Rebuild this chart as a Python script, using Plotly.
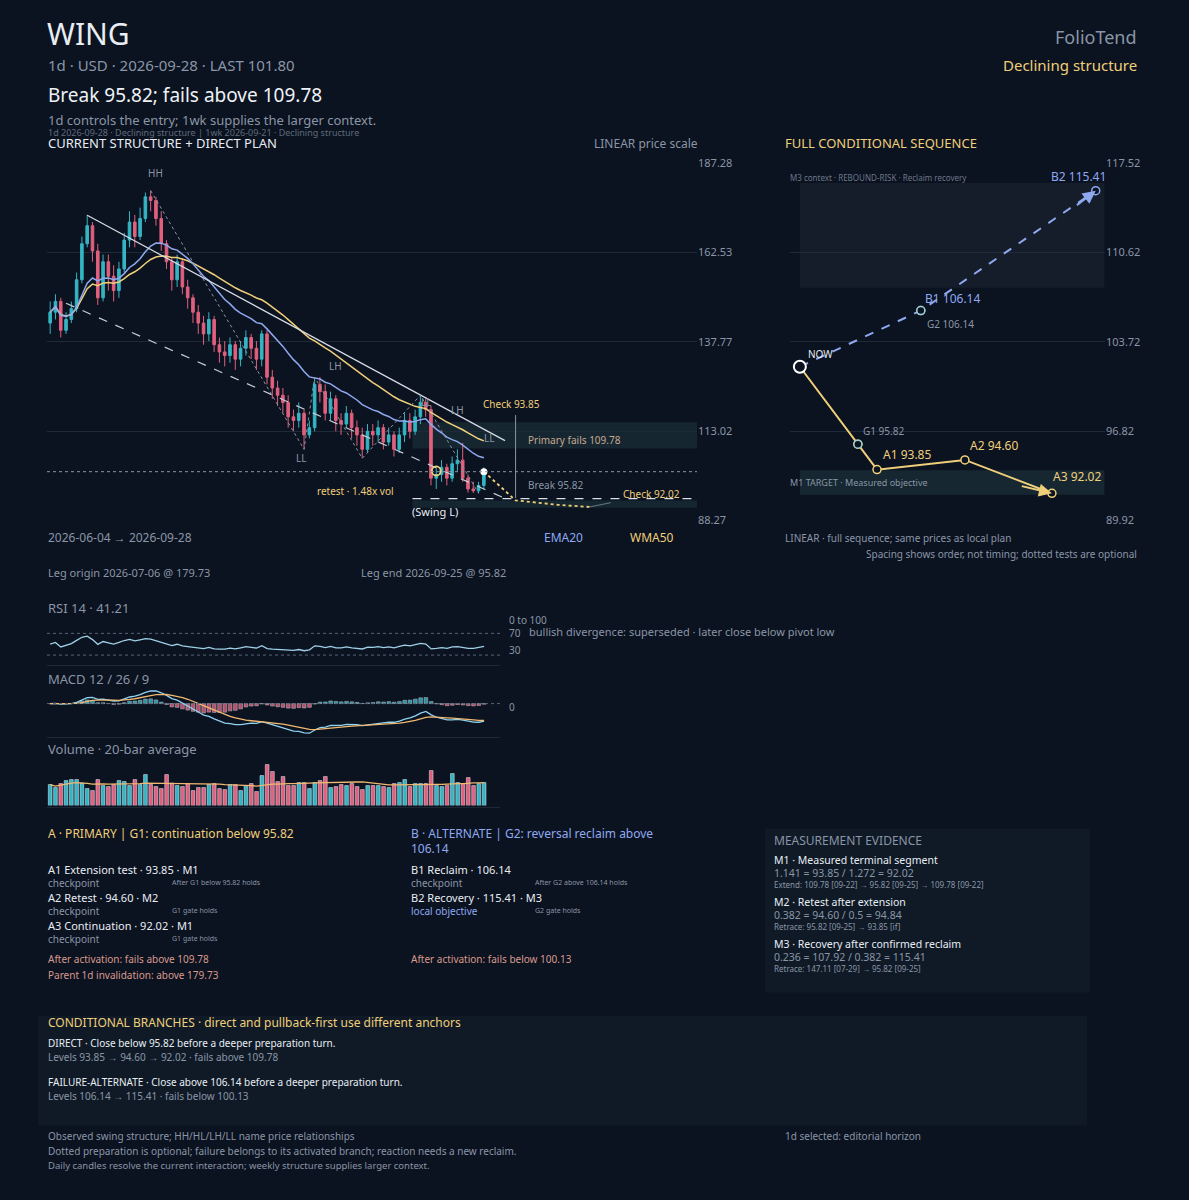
import numpy as np
import pandas as pd
import plotly.graph_objects as go

W, H = 1189, 1200
BG = "#0b1220"
GRID = "#1f2a38"
TXT = "#c9d1dc"
MUTED = "#8a96a6"
YEL = "#f0cf7a"
BLUE = "#8fa9f0"
UP = "#35b5c4"
DN = "#e0607e"
FONT = "Noto Sans"

dates = pd.bdate_range("2026-06-04", "2026-09-28")
closes = [146, 149, 141, 144, 147, 155, 165, 170, 163, 150,
          160, 156, 152, 158, 166, 171, 167, 172, 178, 177,
          172, 165, 160, 155, 160, 153, 150, 146, 143, 140,
          144, 137, 135, 134, 137, 133, 136, 139, 136, 133,
          140, 128, 125, 123, 121, 117, 116, 118, 112, 114,
          126, 124, 118, 122, 116, 115, 118, 114, 112, 108,
          113, 112, 114, 110, 112, 108, 112, 116, 113, 117,
          121, 119, 100, 101, 103, 100, 104, 105, 100, 97,
          96.5, 98, 101.8]
highs = [149, 151, 150, 146, 149, 157, 167, 173, 171, 165,
         162, 162, 159, 160, 168, 174, 173, 175, 179.2, 179.73,
         178, 174, 166, 161, 162, 161, 155, 151, 148, 145,
         146, 145, 139, 138, 139, 138, 138, 141, 140, 138,
         141, 141, 130, 127, 125, 123, 119, 121, 119, 116,
         128, 128, 126, 124, 123, 118, 120, 119, 116, 114,
         115, 115, 116, 115, 114, 113, 114, 118, 118, 119,
         123, 122, 120, 103, 105, 104, 106, 108, 109.78, 101,
         99, 99, 103]
lows = [140, 144, 139, 140, 143, 146, 154, 164, 160, 148,
        149, 152, 149, 150, 157, 164, 164, 166, 171, 174,
        170, 163, 158, 152, 153, 151, 147, 143, 140, 137,
        138, 135, 132, 131, 132, 130, 131, 134, 133, 130,
        131, 126, 122, 120, 118, 114, 113, 114, 108, 111,
        113, 121, 116, 116, 113, 112, 114, 111, 109, 105.5,
        107, 109, 110, 108, 109, 106, 107, 110, 111, 112,
        115, 117, 98, 97, 99, 98, 99, 102, 99, 96,
        95.9, 95.82, 97]
first_open = 143
volumes = [42, 36, 44, 50, 52, 52, 45, 34, 30, 52,
           40, 38, 42, 50, 48, 40, 52, 42, 62, 42,
           38, 34, 62, 45, 40, 38, 44, 30, 36, 36,
           42, 44, 34, 32, 42, 42, 30, 40, 44, 28,
           60, 82, 68, 48, 58, 40, 40, 46, 46, 34,
           46, 50, 58, 36, 38, 42, 40, 44, 38, 32,
           40, 40, 40, 38, 36, 44, 46, 52, 38, 44,
           44, 44, 70, 40, 38, 40, 64, 46, 44, 56,
           40, 44, 46]

# structure + plan levels
swing_idx = [19, 48, 50, 59, 70, 81]
swing_px = [179.73, 108, 128, 105.5, 123, 95.82]
trend_idx = [7, 86]
trend_px = [172.9, 110.4]
chan_idx = [3, 86]
chan_px = [148.5, 94.4]
plan_idx = [82, 88, 96, 102]
plan_px = [101.8, 93.85, 92.6, 92.02]
LAST, BREAK, FAILS, CHECK1, CHECK2 = 101.80, 95.82, 109.78, 93.85, 92.02
price_ticks = [187.28, 162.53, 137.77, 113.02, 88.27]

# conditional sequence
seq_a_x = [0, 2, 2.66, 5.69, 8.69]
seq_a_y = [101.80, 95.82, 93.85, 94.60, 92.02]
seq_b_x = [0, 4.17, 10.2]
seq_b_y = [101.80, 106.14, 115.41]
seq_ticks = [117.52, 110.62, 103.72, 96.82, 89.92]

df = pd.DataFrame({"close": closes, "high": highs, "low": lows, "vol": volumes}, index=dates)
df["open"] = df["close"].shift(1).fillna(first_open)
n = len(df)
idx = np.arange(n)
ema20 = df["close"].ewm(span=20, adjust=True).mean()
wts = np.arange(1, 51)
wma50 = df["close"].rolling(50, min_periods=1).apply(lambda s: np.dot(s, wts[-len(s):]) / wts[-len(s):].sum(), raw=True)
delta = df["close"].diff().fillna(0)
gain = delta.clip(lower=0).ewm(alpha=1 / 14, adjust=False).mean()
loss = (-delta.clip(upper=0)).ewm(alpha=1 / 14, adjust=False).mean()
rsi = (100 * (gain + 1.5) / (gain + loss + 3.0))  # seeded Wilder ratio, neutral start
macd = df["close"].ewm(span=12).mean() - df["close"].ewm(span=26).mean()
signal = macd.ewm(span=9).mean()
hist = macd - signal
vol_avg = df["vol"].rolling(20, min_periods=1).mean()
up = df["close"] >= df["open"]


def px(x):
    return x / W


def py(y):
    # small vertical stretch so the page lands where the reference sits
    y = 600 + (y - 600) * 1.013
    return 1 - y / H


fig = go.Figure()

# ---- price panel
fig.add_trace(go.Candlestick(x=idx, open=df["open"], high=df["high"], low=df["low"], close=df["close"],
                             increasing=dict(line=dict(color=UP, width=1), fillcolor=UP),
                             decreasing=dict(line=dict(color=DN, width=1), fillcolor=DN),
                             whiskerwidth=0, xaxis="x", yaxis="y"))
fig.add_trace(go.Scatter(x=idx, y=wma50, mode="lines", line=dict(color=YEL, width=1.5), xaxis="x", yaxis="y"))
fig.add_trace(go.Scatter(x=idx, y=ema20, mode="lines", line=dict(color=BLUE, width=1.5), xaxis="x", yaxis="y"))
fig.add_trace(go.Scatter(x=trend_idx, y=trend_px, mode="lines", line=dict(color="#d8dde6", width=1.2), xaxis="x", yaxis="y"))
fig.add_trace(go.Scatter(x=chan_idx, y=chan_px, mode="lines", line=dict(color="#c8ced8", width=1.2, dash="dash"), xaxis="x", yaxis="y"))
fig.add_trace(go.Scatter(x=swing_idx, y=swing_px, mode="lines", line=dict(color="#8a94a3", width=1, dash="dot"), xaxis="x", yaxis="y"))
fig.add_trace(go.Scatter(x=plan_idx, y=plan_px, mode="lines", line=dict(color=YEL, width=1.8, dash="dot"), xaxis="x", yaxis="y"))
fig.add_trace(go.Scatter(x=[plan_idx[-1], 106], y=[plan_px[-1], 93.2], mode="lines", line=dict(color="#6b7686", width=1), xaxis="x", yaxis="y"))
fig.add_trace(go.Scatter(x=[73], y=[102], mode="markers", marker=dict(size=9, color="rgba(0,0,0,0)", line=dict(color=YEL, width=1.8)), xaxis="x", yaxis="y"))
fig.add_trace(go.Scatter(x=[82], y=[LAST], mode="markers", marker=dict(size=7, color="white"), xaxis="x", yaxis="y"))

shapes = [
    dict(type="rect", xref="x", yref="y", x0=68.5, x1=122.3, y0=108.2, y1=115.5, fillcolor="rgba(60,110,110,0.22)", line_width=0, layer="below"),
    dict(type="rect", xref="x", yref="y", x0=68.5, x1=122.3, y0=91.8, y1=93.8, fillcolor="rgba(60,110,110,0.22)", line_width=0, layer="below"),
    dict(type="line", xref="x", yref="y", x0=-0.6, x1=122.3, y0=LAST, y1=LAST, line=dict(color="#8a94a3", width=1, dash="dot")),
    dict(type="line", xref="x", yref="y", x0=68.5, x1=122.3, y0=CHECK2 + 2.3, y1=CHECK2 + 2.3, line=dict(color="#d8dde6", width=1.3, dash="dash")),
    dict(type="line", xref="x", yref="y", x0=88, x1=88, y0=94.5, y1=117.5, line=dict(color="#8a94a3", width=1)),
    # sequence zones
    dict(type="rect", xref="x5", yref="y5", x0=0, x1=10.5, y0=107.9, y1=116.0, fillcolor="rgba(40,50,62,0.35)", line_width=0, layer="below"),
    dict(type="rect", xref="x5", yref="y5", x0=0, x1=10.5, y0=91.9, y1=93.8, fillcolor="rgba(50,90,90,0.3)", line_width=0, layer="below"),
    # boxes
    dict(type="rect", xref="paper", yref="paper", x0=px(765), x1=px(1090), y0=py(992), y1=py(828), fillcolor="#0f1a26", line_width=0, layer="below"),
    dict(type="rect", xref="paper", yref="paper", x0=px(38), x1=px(1087), y0=py(1125), y1=py(1015), fillcolor="#0f1a26", line_width=0, layer="below"),
]
for y in [665, 737, 807]:
    shapes.append(dict(type="line", xref="paper", yref="paper", x0=px(47), x1=px(500), y0=py(y), y1=py(y), line=dict(color=GRID, width=1)))

# ---- indicators
fig.add_trace(go.Scatter(x=idx, y=rsi, mode="lines", line=dict(color="#9fd0e8", width=1.3), xaxis="x2", yaxis="y2"))
for lvl in [70, 30]:
    shapes.append(dict(type="line", xref="x2", yref="y2", x0=-0.6, x1=85, y0=lvl, y1=lvl, line=dict(color="#5a6575", width=1, dash="dot")))
fig.add_trace(go.Bar(x=idx, y=hist, marker_color=np.where(hist >= 0, UP, DN), opacity=0.8, xaxis="x3", yaxis="y3"))
fig.add_trace(go.Scatter(x=idx, y=macd, mode="lines", line=dict(color="#8fd3f0", width=1.3), xaxis="x3", yaxis="y3"))
fig.add_trace(go.Scatter(x=idx, y=signal, mode="lines", line=dict(color="#f0b870", width=1.3), xaxis="x3", yaxis="y3"))
shapes.append(dict(type="line", xref="x3", yref="y3", x0=-0.6, x1=85, y0=0, y1=0, line=dict(color="#5a6575", width=1, dash="dot")))
fig.add_trace(go.Bar(x=idx, y=df["vol"], marker_color=np.where(up, UP, DN), xaxis="x4", yaxis="y4"))
fig.add_trace(go.Scatter(x=idx, y=vol_avg, mode="lines", line=dict(color="#f0b870", width=1.3), xaxis="x4", yaxis="y4"))

# ---- sequence
fig.add_trace(go.Scatter(x=seq_b_x, y=seq_b_y, mode="lines+markers", line=dict(color=BLUE, width=2, dash="dash"),
                         marker=dict(size=8, color=BG, line=dict(color=BLUE, width=1.5)), xaxis="x5", yaxis="y5"))
fig.add_trace(go.Scatter(x=seq_a_x, y=seq_a_y, mode="lines+markers", line=dict(color=YEL, width=2),
                         marker=dict(size=8, color=BG, line=dict(color=YEL, width=1.5)), xaxis="x5", yaxis="y5"))
fig.add_trace(go.Scatter(x=[seq_a_x[1], seq_b_x[1]], y=[seq_a_y[1], seq_b_y[1]], mode="markers",
                         marker=dict(size=8, color=BG, line=dict(color="#9fd0d0", width=1.5)), xaxis="x5", yaxis="y5"))
fig.add_trace(go.Scatter(x=[0], y=[seq_a_y[0]], mode="markers",
                         marker=dict(size=12, color=BG, line=dict(color="white", width=2)), xaxis="x5", yaxis="y5"))

ann = []


def t(x, y, text, size=12, color=TXT, anchor="left"):
    ann.append(dict(xref="paper", yref="paper", x=px(x), y=py(y), text=text, showarrow=False,
                    xanchor=anchor, yanchor="middle", font=dict(size=size, color=color, family=FONT)))


def d(x, y, text, size=11, color=TXT, ax="x", ay="y", anchor="left"):
    ann.append(dict(xref=ax, yref=ay, x=x, y=y, text=text, showarrow=False, xanchor=anchor,
                    yanchor="middle", font=dict(size=size, color=color, family=FONT)))


# header
t(45, 33, "WING", 30, "#e8edf3")
t(46, 65, "1d · USD · 2026-09-28 · LAST 101.80", 15, MUTED)
t(46, 95, "Break 95.82; fails above 109.78", 19, "#eef2f6")
t(46, 120, "1d controls the entry; 1wk supplies the larger context.", 13, MUTED)
t(46, 132, "1d 2026-09-28 · Declining structure | 1wk 2026-09-21 · Declining structure", 9, "#5f6b7b")
t(46, 143, "CURRENT STRUCTURE + DIRECT PLAN", 13, "#e8edf3")
t(700, 143, "LINEAR price scale", 12, MUTED, "right")
t(1139, 37, "FolioTend", 18, MUTED, "right")
t(1139, 65, "Declining structure", 15, YEL, "right")
t(783, 143, "FULL CONDITIONAL SEQUENCE", 13, YEL)

# price labels
d(20, 184.5, "HH", 10, MUTED, anchor="center")
d(54, 131, "LH", 10, MUTED, anchor="center")
d(47.5, 105.5, "LL", 10, MUTED, anchor="center")
d(71, 121, "LL", 10, MUTED, anchor="center")
d(77, 119, "LH", 10, MUTED, anchor="center")
d(83, 111, "LL", 10, MUTED, anchor="center")
d(81.5, 120.5, "Check 93.85", 10, YEL)
d(90, 110.5, "Primary fails 109.78", 10, "#c8a890")
d(90, 98.2, "Break 95.82", 10, MUTED)
d(108, 95.5, "Check 92.02", 10, YEL)
d(50, 96.5, "retest · 1.48x vol", 10, YEL)
d(68, 90.8, "(Swing L)", 11, "#e8edf3")
t(46, 537, "2026-06-04 → 2026-09-28", 12, MUTED)
t(542, 537, "EMA20", 12, BLUE)
t(628, 537, "WMA50", 12, YEL)
t(46, 572, "Leg origin 2026-07-06 @ 179.73", 11, MUTED)
t(359, 572, "Leg end 2026-09-25 @ 95.82", 11, MUTED)

# indicators
t(46, 607, "RSI 14 · 41.21", 13, MUTED)
t(507, 619, "0 to 100", 10, MUTED)
t(507, 632, "70", 10, MUTED)
t(507, 649, "30", 10, MUTED)
t(527, 631, "bullish divergence: superseded · later close below pivot low", 11, MUTED)
t(46, 678, "MACD 12 / 26 / 9", 13, MUTED)
t(507, 706, "0", 10, MUTED)
t(46, 748, "Volume · 20-bar average", 13, MUTED)

# sequence labels
d(0.2, 102.8, "NOW", 10, "#e8edf3", "x5", "y5")
d(2.1, 96.8, "G1 95.82", 10, MUTED, "x5", "y5")
d(2.8, 95.0, "A1 93.85", 12, YEL, "x5", "y5")
d(5.8, 95.7, "A2 94.60", 12, YEL, "x5", "y5")
d(8.65, 93.3, "A3 92.02", 12, YEL, "x5", "y5")
d(4.25, 107.1, "B1 106.14", 12, BLUE, "x5", "y5")
d(4.3, 105.1, "G2 106.14", 10, MUTED, "x5", "y5")
d(8.6, 116.5, "B2 115.41", 12, BLUE, "x5", "y5")
t(788, 177, "M3 context · REBOUND-RISK · Reclaim recovery", 8, "#6c7888")
t(788, 482, "M1 TARGET · Measured objective", 9, MUTED)
t(783, 538, "LINEAR · full sequence; same prices as local plan", 10, MUTED)
t(1139, 554, "Spacing shows order, not timing; dotted tests are optional", 10, MUTED, "right")

# plan cards
t(46, 833, "A · PRIMARY | G1: continuation below 95.82", 12, YEL)
rows_a = [("A1 Extension test · 93.85 · M1", "checkpoint", "After G1 below 95.82 holds"),
          ("A2 Retest · 94.60 · M2", "checkpoint", "G1 gate holds"),
          ("A3 Continuation · 92.02 · M1", "checkpoint", "G1 gate holds")]
for k, (a, b, c) in enumerate(rows_a):
    y0 = 869 + 28 * k
    t(46, y0, a, 11, "#e8edf3")
    t(46, y0 + 13, b, 10, MUTED)
    t(170, y0 + 13, c, 7, MUTED)
t(46, 958, "After activation: fails above 109.78", 10, "#d99a8e")
t(46, 974, "Parent 1d invalidation: above 179.73", 10, "#d99a8e")
t(409, 833, "B · ALTERNATE | G2: reversal reclaim above", 12, BLUE)
t(409, 848, "106.14", 12, BLUE)
rows_b = [("B1 Reclaim · 106.14", "checkpoint", "After G2 above 106.14 holds", MUTED),
          ("B2 Recovery · 115.41 · M3", "local objective", "G2 gate holds", BLUE)]
for k, (a, b, c, col) in enumerate(rows_b):
    y0 = 869 + 28 * k
    t(409, y0, a, 11, "#e8edf3")
    t(409, y0 + 13, b, 10, col)
    t(533, y0 + 13, c, 7, MUTED)
t(409, 958, "After activation: fails below 100.13", 10, "#d99a8e")

# measurement evidence
t(772, 840, "MEASUREMENT EVIDENCE", 12, MUTED)
ev = [("M1 · Measured terminal segment", "1.141 = 93.85 / 1.272 = 92.02", "Extend: 109.78 [09-22] → 95.82 [09-25] → 109.78 [09-22]"),
      ("M2 · Retest after extension", "0.382 = 94.60 / 0.5 = 94.84", "Retrace: 95.82 [09-25] → 93.85 [if]"),
      ("M3 · Recovery after confirmed reclaim", "0.236 = 107.92 / 0.382 = 115.41", "Retrace: 147.11 [07-29] → 95.82 [09-25]")]
for k, (a, b, c) in enumerate(ev):
    y0 = 859 + 42 * k
    t(772, y0, a, 10.5, "#e8edf3")
    t(772, y0 + 13, b, 10.5, MUTED)
    t(772, y0 + 25, c, 8, MUTED)

# branches
t(46, 1022, "CONDITIONAL BRANCHES · direct and pullback-first use different anchors", 12, YEL)
t(46, 1042, "DIRECT · Close below 95.82 before a deeper preparation turn.", 10, "#e8edf3")
t(46, 1056, "Levels 93.85 → 94.60 → 92.02 · fails above 109.78", 10, MUTED)
t(46, 1081, "FAILURE-ALTERNATE · Close above 106.14 before a deeper preparation turn.", 10, "#e8edf3")
t(46, 1095, "Levels 106.14 → 115.41 · fails below 100.13", 10, MUTED)
t(46, 1135, "Observed swing structure; HH/HL/LH/LL name price relationships", 10, MUTED)
t(46, 1150, "Dotted preparation is optional; failure belongs to its activated branch; reaction needs a new reclaim.", 10, MUTED)
t(46, 1165, "Daily candles resolve the current interaction; weekly structure supplies larger context.", 9.5, MUTED)
t(783, 1135, "1d selected: editorial horizon", 10, MUTED)

# arrows on sequence
ann.append(dict(xref="x5", yref="y5", axref="x5", ayref="y5", x=seq_a_x[-1], y=seq_a_y[-1], ax=7.6, ay=92.6,
                showarrow=True, arrowhead=2, arrowsize=1.3, arrowwidth=2, arrowcolor=YEL, text=""))
ann.append(dict(xref="x5", yref="y5", axref="x5", ayref="y5", x=seq_b_x[-1], y=seq_b_y[-1], ax=9.5, ay=114.2,
                showarrow=True, arrowhead=2, arrowsize=1.3, arrowwidth=2, arrowcolor=BLUE, text=""))

noax = dict(showgrid=False, zeroline=False, showticklabels=False, ticks="")
fig.update_layout(
    width=W, height=H, paper_bgcolor=BG, plot_bgcolor=BG, showlegend=False,
    margin=dict(l=0, r=0, t=0, b=0), bargap=0.3,
    font=dict(family=FONT, color=MUTED),
    shapes=shapes, annotations=ann,
    xaxis=dict(domain=[px(47), px(697)], range=[-0.6, 122.3], rangeslider=dict(visible=False), **noax),
    yaxis=dict(domain=[py(520), py(163)], range=[88.27, 187.28], side="right", tickvals=price_ticks,
               ticktext=[f"{v:.2f}" for v in price_ticks], gridcolor=GRID, zeroline=False,
               tickfont=dict(size=11, color=MUTED), ticks=""),
    xaxis2=dict(domain=[px(47), px(500)], range=[-0.6, 85], anchor="y2", **noax),
    yaxis2=dict(domain=[py(660), py(622)], range=[20, 90], anchor="x2", **noax),
    xaxis3=dict(domain=[px(47), px(500)], range=[-0.6, 85], anchor="y3", **noax),
    yaxis3=dict(domain=[py(735), py(688)], anchor="x3", **noax),
    xaxis4=dict(domain=[px(47), px(500)], range=[-0.6, 85], anchor="y4", **noax),
    yaxis4=dict(domain=[py(805), py(760)], range=[0, 90], anchor="x4", **noax),
    xaxis5=dict(domain=[px(790), px(1105)], range=[-0.34, 10.52], anchor="y5", **noax),
    yaxis5=dict(domain=[py(520), py(163)], range=[89.92, 117.52], anchor="x5", side="right",
                tickvals=seq_ticks, ticktext=[f"{v:.2f}" for v in seq_ticks], gridcolor=GRID,
                zeroline=False, tickfont=dict(size=11, color=MUTED), ticks=""),
)
fig.write_html("out.html", config={"displayModeBar": False},
               post_script="document.body.style.margin='0';document.body.style.background='%s';"
                           "document.documentElement.style.overflow='hidden';document.body.style.overflow='hidden';" % BG)
